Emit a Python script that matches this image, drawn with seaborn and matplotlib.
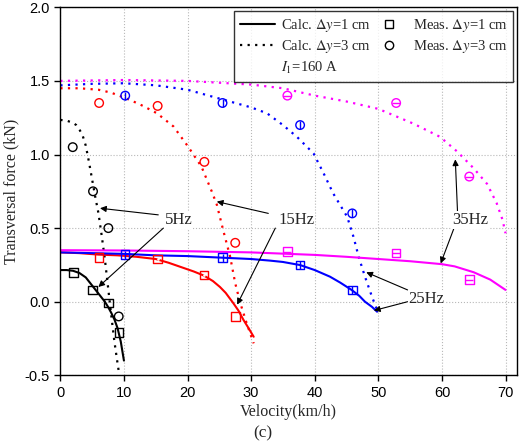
import numpy as np
import pandas as pd
import matplotlib
matplotlib.use("Agg")
import matplotlib.pyplot as plt
import seaborn as sns
from matplotlib.lines import Line2D

# 1. Veriler
freqs = ['5Hz', '15Hz', '25Hz', '35Hz']
colors = {'5Hz': 'black', '15Hz': 'red', '25Hz': 'blue', '35Hz': 'magenta'}

# Hesaplanan egriler, dy = 1 cm (duz cizgi)
c1_5_v = [0, 1, 2, 3, 4, 5, 6, 7, 7.5, 8, 8.5, 9, 9.5, 10]
c1_5_f = [0.215, 0.215, 0.21, 0.195, 0.165, 0.11, 0.055, 0.0, -0.035, -0.075, -0.12, -0.18, -0.27, -0.40]
c1_15_v = [0, 3, 6, 9, 12, 15, 17, 19, 21, 22.6, 24, 25.1, 26, 27.2, 28, 28.8, 29.6, 30.4]
c1_15_f = [0.335, 0.33, 0.32, 0.315, 0.305, 0.29, 0.265, 0.235, 0.205, 0.177, 0.14, 0.10, 0.06, -0.01, -0.06, -0.124, -0.18, -0.238]
c1_25_v = [0, 5, 10, 15, 20, 25, 30, 33, 35, 37.7, 40, 42.4, 44, 45.8, 47, 47.9, 49, 49.8]
c1_25_f = [0.335, 0.33, 0.325, 0.315, 0.31, 0.30, 0.29, 0.279, 0.27, 0.249, 0.215, 0.17, 0.13, 0.08, 0.04, 0.0, -0.035, -0.068]
c1_35_v = [0, 10, 20, 30, 40, 45, 50, 55, 60, 62, 65, 67.6, 70]
c1_35_f = [0.35, 0.348, 0.343, 0.335, 0.318, 0.305, 0.29, 0.275, 0.255, 0.24, 0.20, 0.15, 0.08]

# Hesaplanan egriler, dy = 3 cm (noktali cizgi)
c3_5_v = [0, 1, 2, 2.5, 3, 3.5, 4, 4.5, 5, 5.5, 6, 6.5, 7, 7.5, 8, 8.5, 9, 9.25]
c3_5_f = [1.235, 1.23, 1.215, 1.2, 1.17, 1.13, 1.06, 0.95, 0.83, 0.71, 0.60, 0.45, 0.29, 0.10, -0.09, -0.27, -0.42, -0.49]
c3_15_v = [0, 3, 6, 8, 11, 13, 15.2, 17.8, 20.1, 22.2, 23.8, 24.6, 25.6, 26.7, 27.5, 28.3, 29.3, 30.4]
c3_15_f = [1.45, 1.45, 1.44, 1.42, 1.37, 1.33, 1.28, 1.19, 1.053, 0.917, 0.75, 0.66, 0.487, 0.306, 0.125, -0.01, -0.147, -0.283]
c3_25_v = [0, 5, 10, 15, 20, 25, 30, 32.5, 35, 37.2, 39.8, 41.4, 42.9, 45.1, 46.1, 46.9, 47.9, 49.0, 49.8]
c3_25_f = [1.47, 1.48, 1.484, 1.47, 1.44, 1.38, 1.32, 1.28, 1.20, 1.12, 1.008, 0.872, 0.736, 0.577, 0.44, 0.306, 0.17, 0.034, -0.056]
c3_35_v = [0, 10, 20, 30, 35, 40, 45, 50, 55.5, 59.7, 62.4, 65, 67.1, 68.6, 69.5, 70]
c3_35_f = [1.50, 1.506, 1.50, 1.475, 1.45, 1.40, 1.36, 1.31, 1.21, 1.12, 1.02, 0.906, 0.80, 0.67, 0.56, 0.465]

# Olcumler
m1_5_v, m1_5_f = [2.05, 5.1, 7.55, 9.2], [0.20, 0.08, -0.01, -0.21]
m3_5_v, m3_5_f = [1.95, 5.14, 7.55, 9.18], [1.05, 0.75, 0.50, -0.10]
m1_15_v, m1_15_f = [6.1, 15.3, 22.6, 27.5], [0.30, 0.29, 0.18, -0.10]
m3_15_v, m3_15_f = [6.1, 15.3, 22.65, 27.5], [1.35, 1.33, 0.95, 0.40]
m1_25_v, m1_25_f = [10.2, 25.5, 37.7, 45.9], [0.32, 0.30, 0.25, 0.08]
m3_25_v, m3_25_f = [10.2, 25.5, 37.7, 45.9], [1.40, 1.35, 1.20, 0.60]
m1_35_v, m1_35_f = [35.7, 52.8, 64.3], [0.34, 0.33, 0.15]
m3_35_v, m3_35_f = [35.7, 52.8, 64.3], [1.40, 1.35, 0.85]

calc = {
    ('5Hz', '1 cm'): (c1_5_v, c1_5_f), ('5Hz', '3 cm'): (c3_5_v, c3_5_f),
    ('15Hz', '1 cm'): (c1_15_v, c1_15_f), ('15Hz', '3 cm'): (c3_15_v, c3_15_f),
    ('25Hz', '1 cm'): (c1_25_v, c1_25_f), ('25Hz', '3 cm'): (c3_25_v, c3_25_f),
    ('35Hz', '1 cm'): (c1_35_v, c1_35_f), ('35Hz', '3 cm'): (c3_35_v, c3_35_f),
}
meas = {
    ('5Hz', '1 cm'): (m1_5_v, m1_5_f), ('5Hz', '3 cm'): (m3_5_v, m3_5_f),
    ('15Hz', '1 cm'): (m1_15_v, m1_15_f), ('15Hz', '3 cm'): (m3_15_v, m3_15_f),
    ('25Hz', '1 cm'): (m1_25_v, m1_25_f), ('25Hz', '3 cm'): (m3_25_v, m3_25_f),
    ('35Hz', '1 cm'): (m1_35_v, m1_35_f), ('35Hz', '3 cm'): (m3_35_v, m3_35_f),
}

calc_df = pd.concat([
    pd.DataFrame({'v': v, 'F': f, 'freq': k[0], 'dy': k[1]})
    for k, (v, f) in calc.items()
], ignore_index=True)

# 2. Stil
sns.set_style('ticks')
plt.rcParams['font.family'] = ['Liberation Serif', 'DejaVu Serif']
plt.rcParams['mathtext.fontset'] = 'stix'

fig = plt.figure(figsize=(5.21, 4.45), dpi=100)
ax = fig.add_axes([0.1158, 0.1566, 0.8765, 0.827])

# 3. Hesaplanan egriler
for (fq, dy), grp in calc_df.groupby(['freq', 'dy'], sort=False):
    sns.lineplot(data=grp, x='v', y='F', ax=ax, color=colors[fq], sort=False,
                 estimator=None, lw=1.5 if dy == '1 cm' else 1.6,
                 linestyle='-' if dy == '1 cm' else (0, (1, 2.4)), legend=False)

# 4. Olcum noktalari
overlay = {'5Hz': None, '15Hz': '.', '25Hz': '|', '35Hz': '_'}
for (fq, dy), (v, f) in meas.items():
    mk = 's' if dy == '1 cm' else 'o'
    sns.scatterplot(x=v, y=f, ax=ax, marker=mk, s=38, facecolor='none',
                    edgecolor=colors[fq], linewidth=1.0, legend=False, zorder=3)
    if overlay[fq] is not None:
        sns.scatterplot(x=v, y=f, ax=ax, marker=overlay[fq],
                        s=38 if overlay[fq] != '.' else 3,
                        color=colors[fq], linewidth=1.0, legend=False, zorder=3)

# 5. Oklar ve etiketler
arrow_kw = dict(arrowstyle='-|>', color='black', lw=0.8, mutation_scale=9,
                shrinkA=0, shrinkB=0)
arrows = [
    ((15.4, 0.59), (6.24, 0.635)), ((16.2, 0.50), (5.98, 0.10)),
    ((32.7, 0.60), (24.6, 0.68)), ((33.8, 0.50), (27.8, -0.02)),
    ((54.6, 0.08), (48.1, 0.20)), ((54.6, 0.0), (49.3, -0.06)),
    ((62.45, 0.61), (62.1, 0.967)), ((61.9, 0.50), (59.8, 0.26)),
]
for tail, tip in arrows:
    ax.annotate('', xy=tip, xytext=tail, arrowprops=arrow_kw)

label_pos = {'5Hz': (18.6, 0.555), '15Hz': (37.1, 0.555), '25Hz': (57.6, 0.02), '35Hz': (64.4, 0.555)}
for fq, (x, y) in label_pos.items():
    ax.text(x, y, fq, fontsize=12, ha='center', va='center',
            bbox=dict(fc='white', ec='none', pad=0.5))

# 6. Eksenler
ax.set_xlim(0, 71.8)
ax.set_ylim(-0.5, 2.0)
ax.set_xticks(np.arange(0, 71, 10))
ax.set_yticks([-0.5, 0.0, 0.5, 1.0, 1.5, 2.0])
ax.set_yticklabels(['-0.5', '0.0', '0.5', '1.0', '1.5', '2.0'])
for lab in ax.get_xticklabels() + ax.get_yticklabels():
    lab.set_family('Liberation Sans')
    lab.set_fontsize(10.5)
ax.tick_params(direction='out', length=4, width=1, colors='black')
ax.grid(True, linestyle=':', color='#b8b8b8', lw=0.8)
ax.set_axisbelow(True)
for sp in ax.spines.values():
    sp.set_visible(True)
    sp.set_color('black')
    sp.set_linewidth(1.0)

ax.set_xlabel('Velocity(km/h)', fontsize=11.5, labelpad=3)
ax.set_ylabel('Transversal force (kN)', fontsize=11.5, labelpad=4)
fig.text(0.505, 0.027, '(c)', fontsize=12.5, ha='center', va='center')

# 7. Lejant
handles = [
    Line2D([], [], color='black', lw=1.5),
    Line2D([], [], color='black', lw=1.6, linestyle=(0, (1, 2.4))),
    Line2D([], [], color='none'),
    Line2D([], [], color='black', marker='s', mfc='none', ls='none', ms=6),
    Line2D([], [], color='black', marker='o', mfc='none', ls='none', ms=6),
]
labels = [r'Calc. $\Delta y$=1 cm', r'Calc. $\Delta y$=3 cm', r'$I_1$=160 A',
          r'Meas. $\Delta y$=1 cm', r'Meas. $\Delta y$=3 cm']
leg = ax.legend(handles, labels, ncol=2, loc='upper right', fontsize=10.5,
                frameon=True, fancybox=False, edgecolor='black',
                borderaxespad=0.25, handlelength=2.4, handletextpad=0.45,
                columnspacing=0.0, labelspacing=0.32, borderpad=0.4)
leg.get_frame().set_linewidth(1.0)

fig.savefig('out.png', dpi=100)
